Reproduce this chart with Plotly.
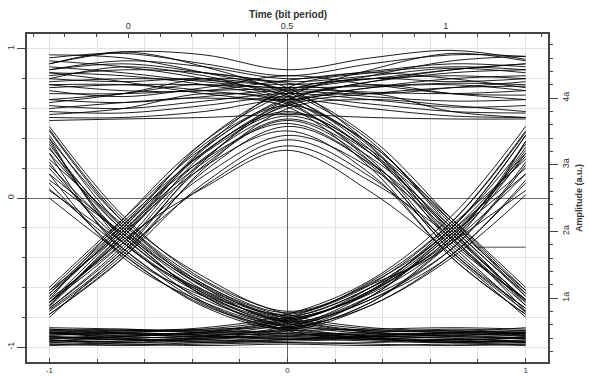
import plotly.graph_objects as go

# Sample instants on the lower time axis (the window spans -0.25 .. 1.25 bit periods)
TIME_SAMPLES = [-1.0, -0.69, -0.35, 0.0, 0.35, 0.69, 1.0]

# Received waveforms grouped by (previous, current, next) bit, amplitude in volts
LOW_RAILS = [  # 0-0-0
    [-0.90, -0.91, -0.92, -0.91, -0.93, -0.92, -0.91],
    [-0.93, -0.94, -0.93, -0.95, -0.94, -0.95, -0.94],
    [-0.96, -0.95, -0.97, -0.96, -0.95, -0.96, -0.97],
    [-0.88, -0.89, -0.88, -0.87, -0.89, -0.90, -0.89],
    [-0.98, -0.99, -0.98, -0.97, -0.98, -0.99, -0.98],
    [-0.91, -0.93, -0.94, -0.93, -0.91, -0.92, -0.94],
    [-0.94, -0.92, -0.91, -0.92, -0.94, -0.93, -0.92],
    [-0.87, -0.88, -0.90, -0.89, -0.88, -0.87, -0.88],
    [-0.95, -0.97, -0.96, -0.94, -0.96, -0.97, -0.95],
    [-0.92, -0.90, -0.89, -0.90, -0.92, -0.91, -0.90],
    [-0.97, -0.96, -0.95, -0.97, -0.97, -0.95, -0.96],
    [-0.89, -0.91, -0.93, -0.92, -0.90, -0.89, -0.91],
    [-0.93, -0.95, -0.94, -0.93, -0.95, -0.96, -0.93],
    [-0.99, -0.98, -0.99, -0.98, -0.99, -0.98, -0.99],
    [-0.90, -0.94, -0.96, -0.95, -0.93, -0.90, -0.92],
    [-0.96, -0.93, -0.90, -0.91, -0.94, -0.97, -0.96],
    [-0.88, -0.90, -0.92, -0.94, -0.92, -0.90, -0.87],
    [-0.95, -0.98, -0.97, -0.95, -0.93, -0.94, -0.97],
]

HIGH_RAILS = [  # 1-1-1
    [0.90, 0.98, 0.96, 0.86, 0.94, 0.99, 0.93],
    [0.94, 0.97, 0.90, 0.82, 0.90, 0.96, 0.95],
    [0.86, 0.92, 0.88, 0.80, 0.85, 0.90, 0.88],
    [0.82, 0.86, 0.84, 0.78, 0.82, 0.87, 0.84],
    [0.78, 0.80, 0.79, 0.76, 0.80, 0.82, 0.80],
    [0.74, 0.76, 0.76, 0.74, 0.75, 0.77, 0.76],
    [0.70, 0.70, 0.72, 0.73, 0.71, 0.70, 0.72],
    [0.66, 0.64, 0.68, 0.72, 0.68, 0.65, 0.66],
    [0.62, 0.60, 0.65, 0.70, 0.66, 0.61, 0.62],
    [0.58, 0.57, 0.62, 0.68, 0.63, 0.58, 0.57],
    [0.54, 0.54, 0.58, 0.66, 0.60, 0.55, 0.54],
    [0.52, 0.53, 0.54, 0.56, 0.54, 0.53, 0.53],
    [0.88, 0.84, 0.78, 0.74, 0.80, 0.86, 0.90],
    [0.76, 0.72, 0.72, 0.79, 0.84, 0.80, 0.74],
    [0.80, 0.88, 0.82, 0.70, 0.78, 0.84, 0.86],
    [0.72, 0.68, 0.74, 0.82, 0.76, 0.70, 0.69],
    [0.64, 0.70, 0.80, 0.77, 0.70, 0.74, 0.78],
    [0.84, 0.78, 0.70, 0.66, 0.74, 0.76, 0.72],
]

PULSES_010 = [
    [-0.60, -0.14, 0.34, 0.62, 0.36, -0.18, -0.62],
    [-0.66, -0.20, 0.31, 0.58, 0.30, -0.30, -0.68],
    [-0.70, -0.26, 0.27, 0.55, 0.30, -0.16, -0.64],
    [-0.74, -0.34, 0.22, 0.52, 0.24, -0.28, -0.72],
    [-0.64, -0.18, 0.26, 0.50, 0.22, -0.36, -0.74],
    [-0.76, -0.38, 0.18, 0.48, 0.23, -0.22, -0.70],
    [-0.72, -0.24, 0.21, 0.45, 0.16, -0.40, -0.78],
    [-0.68, -0.30, 0.15, 0.42, 0.20, -0.24, -0.69],
    [-0.78, -0.40, 0.10, 0.39, 0.14, -0.32, -0.77],
    [-0.80, -0.36, 0.08, 0.35, 0.11, -0.27, -0.76],
    [-0.73, -0.28, 0.07, 0.32, 0.04, -0.38, -0.80],
    [-0.62, -0.16, 0.30, 0.57, 0.32, -0.14, -0.60],
    [-0.70, -0.22, 0.24, 0.53, 0.27, -0.20, -0.66],
]

PULSES_101 = [
    [0.46, -0.14, -0.53, -0.76, -0.58, -0.30, 0.38],
    [0.40, -0.30, -0.62, -0.78, -0.56, -0.16, 0.44],
    [0.36, -0.22, -0.59, -0.80, -0.62, -0.26, 0.32],
    [0.30, -0.36, -0.66, -0.82, -0.60, -0.20, 0.36],
    [0.26, -0.18, -0.60, -0.83, -0.66, -0.34, 0.22],
    [0.22, -0.26, -0.64, -0.84, -0.63, -0.24, 0.28],
    [0.16, -0.40, -0.70, -0.85, -0.68, -0.38, 0.12],
    [0.12, -0.24, -0.66, -0.86, -0.70, -0.30, 0.16],
    [0.06, -0.34, -0.71, -0.87, -0.66, -0.22, 0.20],
    [0.00, -0.38, -0.73, -0.88, -0.72, -0.40, 0.02],
    [0.33, -0.20, -0.58, -0.79, -0.60, -0.28, 0.30],
    [0.20, -0.30, -0.65, -0.81, -0.62, -0.18, 0.26],
    [0.40, -0.16, -0.56, -0.77, -0.57, -0.20, 0.42],
]

EDGES_011 = [
    [-0.66, -0.18, 0.36, 0.66, 0.78, 0.86, 0.90],
    [-0.70, -0.30, 0.30, 0.64, 0.74, 0.80, 0.82],
    [-0.72, -0.24, 0.31, 0.62, 0.70, 0.74, 0.75],
    [-0.75, -0.36, 0.25, 0.66, 0.76, 0.70, 0.66],
    [-0.68, -0.14, 0.38, 0.70, 0.82, 0.92, 0.95],
    [-0.78, -0.40, 0.20, 0.60, 0.66, 0.62, 0.58],
    [-0.64, -0.20, 0.38, 0.72, 0.80, 0.78, 0.80],
    [-0.74, -0.32, 0.26, 0.63, 0.70, 0.58, 0.54],
    [-0.70, -0.26, 0.33, 0.68, 0.86, 0.97, 0.92],
    [-0.62, -0.22, 0.34, 0.74, 0.84, 0.88, 0.86],
]

EDGES_110 = [
    [0.92, 0.88, 0.80, 0.68, 0.34, -0.28, -0.68],
    [0.84, 0.82, 0.76, 0.65, 0.36, -0.16, -0.66],
    [0.76, 0.76, 0.72, 0.63, 0.26, -0.34, -0.74],
    [0.66, 0.70, 0.76, 0.66, 0.30, -0.22, -0.72],
    [0.96, 0.94, 0.84, 0.71, 0.38, -0.20, -0.64],
    [0.60, 0.64, 0.67, 0.61, 0.20, -0.40, -0.78],
    [0.80, 0.78, 0.80, 0.72, 0.40, -0.14, -0.62],
    [0.56, 0.60, 0.70, 0.64, 0.24, -0.36, -0.76],
    [0.90, 0.98, 0.88, 0.69, 0.32, -0.26, -0.70],
    [0.86, 0.90, 0.84, 0.74, 0.35, -0.24, -0.68],
]

EDGES_100 = [
    [0.45, -0.16, -0.58, -0.80, -0.88, -0.90, -0.91],
    [0.38, -0.28, -0.64, -0.82, -0.90, -0.93, -0.94],
    [0.30, -0.22, -0.62, -0.84, -0.91, -0.92, -0.90],
    [0.24, -0.34, -0.68, -0.86, -0.93, -0.96, -0.96],
    [0.16, -0.24, -0.66, -0.87, -0.92, -0.94, -0.93],
    [0.10, -0.38, -0.72, -0.88, -0.94, -0.97, -0.98],
    [0.42, -0.20, -0.60, -0.81, -0.89, -0.88, -0.89],
    [0.05, -0.30, -0.70, -0.89, -0.95, -0.95, -0.94],
    [0.34, -0.26, -0.63, -0.83, -0.90, -0.91, -0.92],
    [0.48, -0.12, -0.55, -0.78, -0.87, -0.89, -0.90],
]

EDGES_001 = [
    [-0.91, -0.90, -0.88, -0.80, -0.58, -0.16, 0.45],
    [-0.94, -0.93, -0.90, -0.82, -0.64, -0.28, 0.38],
    [-0.90, -0.92, -0.91, -0.84, -0.62, -0.22, 0.30],
    [-0.96, -0.96, -0.93, -0.86, -0.68, -0.34, 0.24],
    [-0.93, -0.94, -0.92, -0.87, -0.66, -0.24, 0.16],
    [-0.98, -0.97, -0.94, -0.88, -0.72, -0.38, 0.10],
    [-0.89, -0.88, -0.89, -0.81, -0.60, -0.20, 0.42],
    [-0.94, -0.95, -0.95, -0.89, -0.70, -0.30, 0.05],
    [-0.92, -0.91, -0.90, -0.83, -0.63, -0.26, 0.34],
    [-0.90, -0.89, -0.87, -0.78, -0.55, -0.12, 0.48],
]

# A short flat fragment captured at the end of the record
FRAGMENT_T = [0.8, 1.0]
FRAGMENT_V = [-0.33, -0.33]

LEFT_TICKS = [-1, 0, 1]
LEFT_LABELS = ["-1", "0", "1"]
BOTTOM_TICKS = [-1, 0, 1]
BOTTOM_LABELS = ["-1", "0", "1"]
TOP_TICKS = [0, 0.5, 1]
TOP_LABELS = ["0", "0.5", "1"]
RIGHT_TICKS = [1, 2, 3, 4]
RIGHT_LABELS = ["1a", "2a", "3a", "4a"]

FONT = "Liberation Sans, Arial, sans-serif"
INK = "#333333"
FRAME = "#444444"
GRID = "#e2e2e2"

fig = go.Figure()

groups = [LOW_RAILS, HIGH_RAILS, PULSES_010, PULSES_101,
          EDGES_011, EDGES_110, EDGES_100, EDGES_001]
for group in groups:
    for wave in group:
        fig.add_trace(go.Scatter(
            x=TIME_SAMPLES, y=wave, mode="lines",
            line=dict(color="rgba(0,0,0,0.88)", width=1, shape="spline", smoothing=1.0),
            hoverinfo="skip", showlegend=False,
        ))

fig.add_trace(go.Scatter(
    x=FRAGMENT_T, y=FRAGMENT_V, mode="lines",
    line=dict(color="rgba(0,0,0,0.7)", width=1),
    hoverinfo="skip", showlegend=False,
))

axis_common = dict(
    showline=True, linecolor=FRAME, linewidth=1.5,
    tickcolor=FRAME, automargin=False,
    tickfont=dict(family=FONT, size=9, color=INK),
)

fig.update_layout(
    width=589, height=376,
    margin=dict(l=27, r=41, t=34, b=14),
    paper_bgcolor="white", plot_bgcolor="white",
    showlegend=False,
    xaxis=dict(
        **axis_common,
        range=[-1.094, 1.094],
        tickvals=BOTTOM_TICKS, ticktext=BOTTOM_LABELS, ticks="inside", ticklen=4,
        tickfont_size=8,
        showgrid=False,
        minor=dict(dtick=0.2, tick0=0, ticks="inside", ticklen=3,
                   tickcolor=FRAME, showgrid=True, gridcolor=GRID, gridwidth=1),
        zeroline=True, zerolinecolor="#666666", zerolinewidth=1.2,
    ),
    xaxis2=dict(
        **axis_common,
        overlaying="x", side="top", anchor="y",
        range=[-0.319, 1.322],
        tickvals=TOP_TICKS, ticktext=TOP_LABELS, ticks="inside", ticklen=4,
        showgrid=False, zeroline=False,
        minor=dict(dtick=0.1, tick0=0, ticks="inside", ticklen=3, tickcolor=FRAME),
    ),
    yaxis=dict(
        **axis_common,
        range=[-1.1, 1.1],
        tickvals=LEFT_TICKS, ticktext=LEFT_LABELS, ticks="outside", ticklen=8,
        tickangle=-90,
        showgrid=False,
        minor=dict(dtick=0.2, tick0=0, ticks="outside", ticklen=3,
                   tickcolor=FRAME, showgrid=True, gridcolor=GRID, gridwidth=1),
        zeroline=True, zerolinecolor="#666666", zerolinewidth=1.2,
    ),
    yaxis2=dict(
        **axis_common,
        overlaying="y", side="right", anchor="x",
        range=[0.04, 4.96],
        tickvals=RIGHT_TICKS, ticktext=RIGHT_LABELS, ticks="outside", ticklen=8,
        tickangle=-90,
        showgrid=False, zeroline=False,
        minor=dict(dtick=0.2, tick0=0, ticks="outside", ticklen=3, tickcolor=FRAME),
        title=dict(text="<b>Amplitude (a.u.)</b>", standoff=6,
                   font=dict(family=FONT, size=9, color=INK)),
    ),
    annotations=[dict(
        text="<b>Time (bit period)</b>", xref="paper", yref="paper",
        x=0.5, y=1, yshift=12, showarrow=False, xanchor="center", yanchor="bottom",
        font=dict(family=FONT, size=10, color=INK),
    )],
)

# keep the secondary axes attached to an (empty) subplot so they are drawn
fig.add_trace(go.Scatter(x=[None], y=[None], xaxis="x2", yaxis="y2",
                         hoverinfo="skip", showlegend=False))

fig.write_html("out.html")
